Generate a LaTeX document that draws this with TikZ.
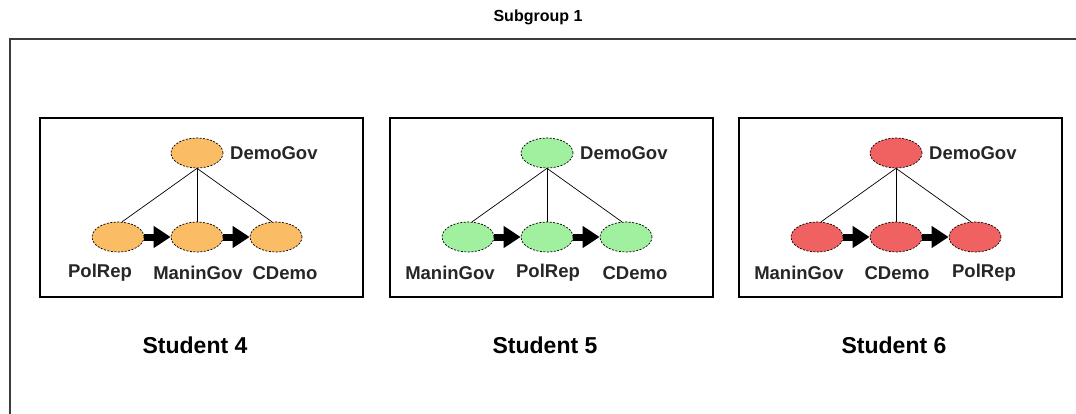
\documentclass[tikz,border=0pt]{standalone}
\usepackage{fontspec}
\setmainfont{Liberation Sans}
\usetikzlibrary{arrows.meta,shapes.geometric}
\definecolor{orangefill}{RGB}{250,188,100}
\definecolor{greenfill}{RGB}{160,240,160}
\definecolor{redfill}{RGB}{240,98,98}
\definecolor{framegray}{RGB}{60,60,60}
\newcommand\drawstudent[7]{%
  \begin{scope}[xshift=#2]
    \node[studentbox] (#1box) at (161.5,207.5) {};
    \node[var, fill=#3] (#1top) at (157,153) {};
    \node[var, fill=#3] (#1l) at (78,237) {};
    \node[var, fill=#3] (#1m) at (157,237) {};
    \node[var, fill=#3] (#1r) at (236,237) {};
    \node[lbl, anchor=west] (#1toplbl) at (190,153) {DemoGov};
    \node[lbl] (#1llbl) at (60,273) {#4};
    \node[lbl] (#1mlbl) at (158,273) {#5};
    \node[lbl] (#1rlbl) at (245,273) {#6};
    \node[studentlbl] (#1name) at (155,345) {#7};
    \draw[link] (#1top.south) -- (#1l.75);
    \draw[link] (#1top.south) -- (#1m.north);
    \draw[link] (#1top.south) -- (#1r.105);
    \draw[flow] (#1l.east) -- (#1m.west);
    \draw[flow] (#1m.east) -- (#1r.west);
  \end{scope}}
\begin{document}
\begin{tikzpicture}[x=1pt,y=-1pt,
  var/.style={draw, ellipse, dash pattern=on 2pt off 1.5pt, line width=0.7pt,
    minimum width=52pt, minimum height=30pt, inner sep=0pt},
  lbl/.style={font=\bfseries\fontsize{18.5}{21}\selectfont, inner sep=0pt, text=black!85},
  studentlbl/.style={font=\bfseries\fontsize{23}{26}\selectfont, inner sep=0pt},
  titlelbl/.style={font=\bfseries\fontsize{16}{19}\selectfont, inner sep=0pt},
  link/.style={line width=0.7pt},
  flow/.style={line width=7pt, -{Triangle[length=17pt,width=21pt]}},
  studentbox/.style={draw, line width=1.2pt, minimum width=323pt, minimum height=179pt, inner sep=0pt},
  frame/.style={draw=framegray, line width=1.5pt},
]
\useasboundingbox (0,0) rectangle (1076,414);
\node[titlelbl] (title) at (538,17) {Subgroup 1};
\coordinate (ftr) at (1078,39);
\coordinate (ftl) at (10,39);
\coordinate (fbl) at (10,416);
\draw[frame] (ftr) -- (ftl) -- (fbl);
\drawstudent{s4}{40}{orangefill}{PolRep}{ManinGov}{CDemo}{Student 4}
\drawstudent{s5}{390}{greenfill}{ManinGov}{PolRep}{CDemo}{Student 5}
\drawstudent{s6}{739}{redfill}{ManinGov}{CDemo}{PolRep}{Student 6}
\end{tikzpicture}
\end{document}
